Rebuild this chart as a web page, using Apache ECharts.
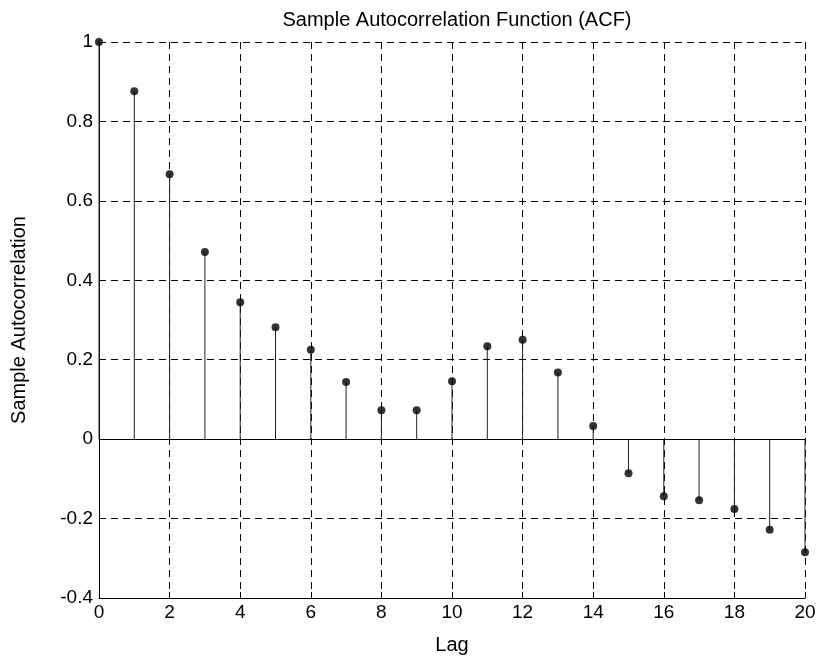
<!DOCTYPE html>
<html>
<head>
    <meta charset="UTF-8">
    <title>Sample Autocorrelation Function (ACF)</title>
    <script type="text/javascript" src="https://cdn.jsdelivr.net/npm/echarts@6/dist/echarts.min.js"></script>
    <style>
        body { margin: 0; padding: 0; background: #fff; }
        #chart { width: 819px; height: 658px; }
    </style>
</head>
<body>
    <div id="chart"></div>
    <script>
        // data
        var lags = [0, 1, 2, 3, 4, 5, 6, 7, 8, 9, 10, 11, 12, 13, 14, 15, 16, 17, 18, 19, 20];
        var acf = [1, 0.876, 0.667, 0.471, 0.345, 0.282, 0.225, 0.144, 0.073, 0.073, 0.146,
                   0.234, 0.250, 0.168, 0.033, -0.086, -0.144, -0.154, -0.176, -0.228, -0.285];

        var points = lags.map(function (l, i) { return [l, acf[i]]; });

        var font = 'Liberation Sans, Arial, sans-serif';
        var chart = echarts.init(document.getElementById('chart'), null, { renderer: 'canvas' });

        var option = {
            animation: false,
            backgroundColor: '#fff',
            title: {
                text: 'Sample Autocorrelation Function (ACF)',
                left: 452, top: 5, textAlign: 'center',
                textStyle: { fontFamily: font, fontSize: 20, fontWeight: 'normal', color: '#000' }
            },
            grid: { left: 99, right: 14, top: 42, bottom: 60, containLabel: false, outerBoundsMode: 'none' },
            xAxis: {
                type: 'value', min: 0, max: 20, interval: 2,
                name: 'Lag', nameLocation: 'middle', nameGap: 37,
                nameTextStyle: { fontFamily: font, fontSize: 20, color: '#000' },
                axisLine: { onZero: false, lineStyle: { color: '#000', width: 1 } },
                axisTick: { inside: true, length: 6, lineStyle: { color: '#000' } },
                axisLabel: { fontFamily: font, fontSize: 19, color: '#000', margin: 5 },
                splitLine: { show: true, lineStyle: { color: '#000', type: [7, 5], width: 1 } }
            },
            yAxis: {
                type: 'value', min: -0.4, max: 1, interval: 0.2,
                name: 'Sample Autocorrelation', nameLocation: 'middle', nameGap: 70,
                nameTextStyle: { fontFamily: font, fontSize: 20, color: '#000' },
                axisLine: { show: true, lineStyle: { color: '#000', width: 1 } },
                axisTick: { inside: true, length: 6, lineStyle: { color: '#000' } },
                axisLabel: {
                    fontFamily: font, fontSize: 19, color: '#000', margin: 6,
                    formatter: function (v) { return String(Math.round(v * 10) / 10); }
                },
                splitLine: { show: true, lineStyle: { color: '#000', type: [7, 5], width: 1 } }
            },
            series: [
                {
                    // stems
                    type: 'custom',
                    data: points,
                    renderItem: function (params, api) {
                        var top = api.coord([api.value(0), api.value(1)]);
                        var base = api.coord([api.value(0), 0]);
                        return {
                            type: 'line',
                            shape: { x1: top[0], y1: top[1], x2: base[0], y2: base[1] },
                            style: { stroke: '#222', lineWidth: 1 }
                        };
                    },
                    z: 3
                },
                {
                    type: 'scatter',
                    data: points,
                    symbol: 'circle',
                    symbolSize: 8,
                    itemStyle: { color: '#000' },
                    z: 4,
                    markLine: {
                        silent: true,
                        symbol: 'none',
                        label: { show: false },
                        lineStyle: { color: '#000', type: 'solid', width: 1 },
                        data: [{ yAxis: 0 }]
                    }
                }
            ]
        };

        chart.setOption(option);
    </script>
</body>
</html>
